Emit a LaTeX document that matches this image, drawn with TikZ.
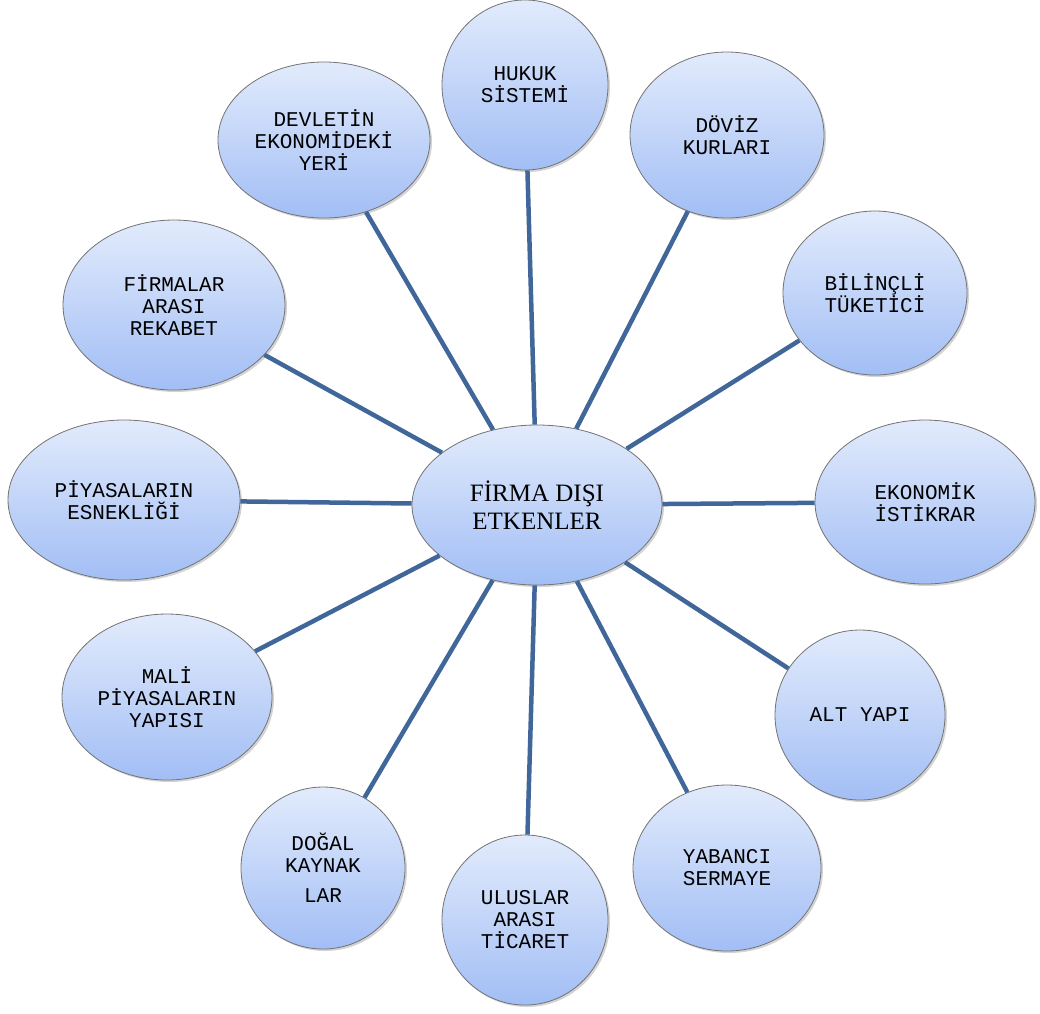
\documentclass[tikz,border=0pt]{standalone}
\usepackage{fontspec}
\setmainfont{Liberation Serif}
\newfontfamily\slabfont{Liberation Mono}
\usepackage{tikz}
\usetikzlibrary{shapes.geometric,shadows}

\definecolor{spokeblue}{RGB}{65,103,154}
\definecolor{topblue}{RGB}{226,235,252}
\definecolor{botblue}{RGB}{162,190,245}

\tikzset{
  bubble/.style={ellipse,draw=black!55,line width=0.8pt,inner sep=0pt,
    top color=topblue,bottom color=botblue,align=center,
    font=\slabfont\fontsize{21}{22}\selectfont,
    drop shadow={opacity=0.35,shadow xshift=2pt,shadow yshift=-2pt}},
  spoke/.style={draw=spokeblue,line width=4.5pt}
}

\begin{document}
\begin{tikzpicture}[x=1pt,y=-1pt]
\useasboundingbox (0,0) rectangle (1040,1013);

% the hub
\node[bubble,minimum width=250pt,minimum height=160pt,
  font=\fontsize{25}{28}\selectfont] (firma) at (537,505) {FİRMA DIŞI\\ETKENLER};

% the factors round it, clockwise from the top
\node[bubble,minimum width=166pt,minimum height=170pt] (hukuk) at (525,85) {HUKUK\\SİSTEMİ};
\node[bubble,minimum width=194pt,minimum height=166pt] (doviz) at (727,135) {DÖVİZ\\KURLARI};
\node[bubble,minimum width=184pt,minimum height=164pt] (bilincli) at (875,293) {BİLİNÇLİ\\TÜKETİCİ};
\node[bubble,minimum width=220pt,minimum height=164pt] (istikrar) at (925,502) {EKONOMİK\\İSTİKRAR};
\node[bubble,minimum width=170pt,minimum height=170pt] (altyapi) at (860,715) {ALT YAPI};
\node[bubble,minimum width=188pt,minimum height=166pt] (yabanci) at (727,868) {YABANCI\\SERMAYE};
\node[bubble,minimum width=166pt,minimum height=170pt] (ticaret) at (525,920) {ULUSLAR\\ARASI\\TİCARET};
\node[bubble,minimum width=164pt,minimum height=162pt] (dogal) at (323,868) {DOĞAL\\KAYNAK\\[8pt]LAR};
\node[bubble,minimum width=210pt,minimum height=166pt] (mali) at (167,697) {MALİ\\PİYASALARIN\\YAPISI};
\node[bubble,minimum width=232pt,minimum height=160pt] (esneklik) at (124,500) {PİYASALARIN\\ESNEKLİĞİ};
\node[bubble,minimum width=222pt,minimum height=170pt] (rekabet) at (174,305) {FİRMALAR\\ARASI\\REKABET};
\node[bubble,minimum width=212pt,minimum height=156pt] (devlet) at (324,140) {DEVLETİN\\EKONOMİDEKİ\\YERİ};

% spokes from the hub
\foreach \n in {hukuk,doviz,bilincli,istikrar,altyapi,yabanci,ticaret,dogal,mali,esneklik,rekabet,devlet}
  \draw[spoke] (firma) -- (\n);
\end{tikzpicture}
\end{document}
